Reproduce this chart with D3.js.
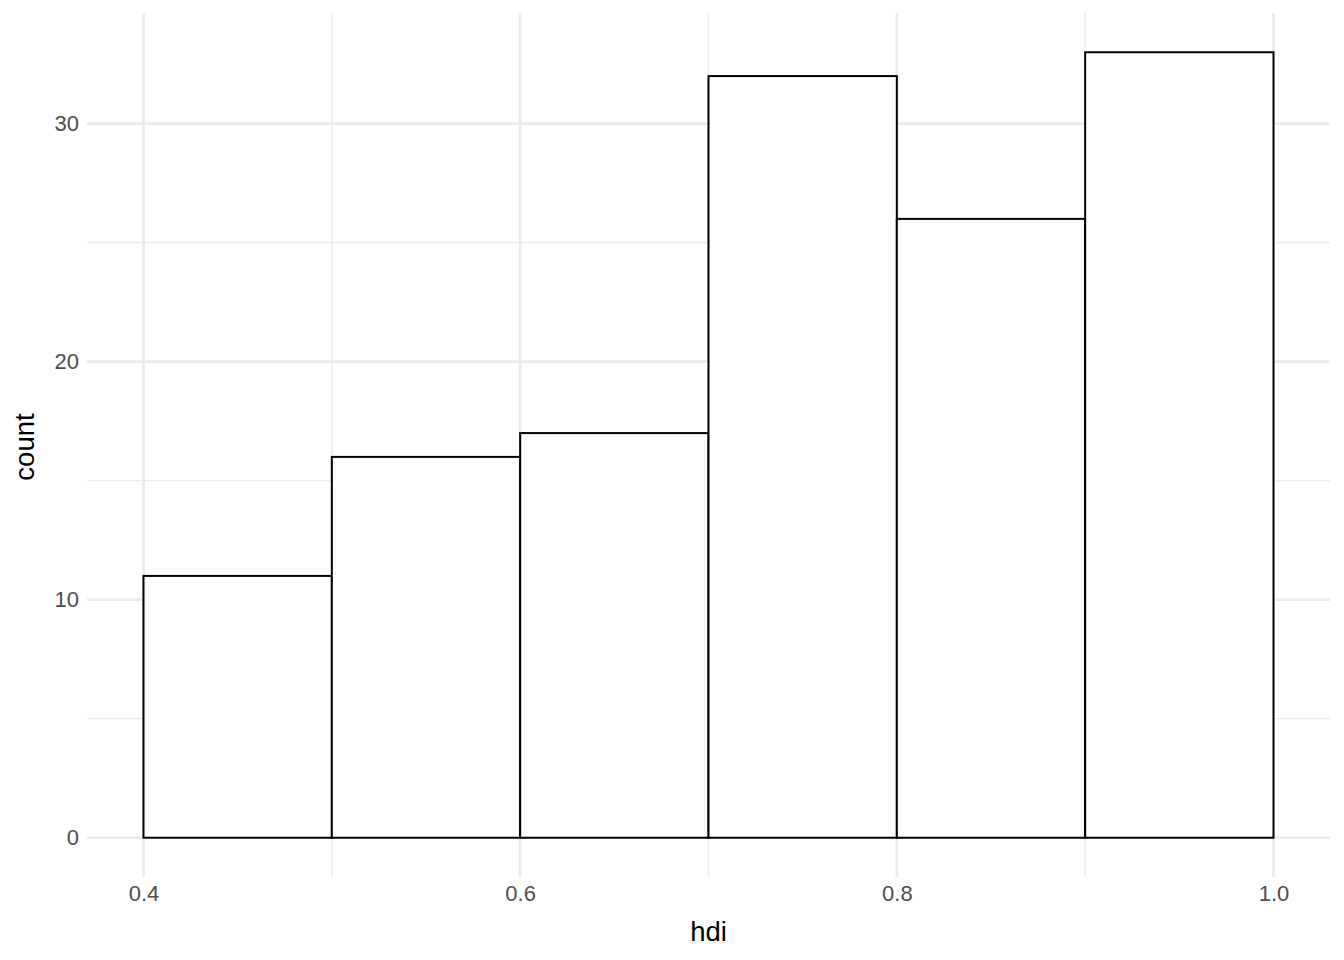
<!DOCTYPE html>
<html>
<head>
<meta charset="utf-8">
<script src="https://cdn.jsdelivr.net/npm/d3@7"></script>
<style>
  body { margin: 0; background: #fff; }
  text { font-family: "Liberation Sans", Arial, sans-serif; }
</style>
</head>
<body>
<div id="chart"></div>
<script>
// histogram bins (hdi, binwidth 0.1)
var binStarts = [0.4, 0.5, 0.6, 0.7, 0.8, 0.9];
var binWidth = 0.1;
var counts = [11, 16, 17, 32, 26, 33];
var xTicks = [0.4, 0.6, 0.8, 1.0];
var xMinor = [0.5, 0.7, 0.9];
var yTicks = [0, 10, 20, 30];
var yMinor = [5, 15, 25];

var W = 1344, H = 960;
var margin = {top: 13, right: 14, bottom: 83, left: 87};
var width = W - margin.left - margin.right,
	height = H - margin.top - margin.bottom;

var svg = d3.select("#chart").append("svg")
		.attr("width", W)
		.attr("height", H)
	.append("g")
		.attr("transform", "translate(" + margin.left + "," + margin.top + ")");

// ggplot-style 5% expansion
var xMin = 0.4, xMax = 1.0, yMax = d3.max(counts);
var xPad = (xMax - xMin) * 0.05, yPad = yMax * 0.05;

var x = d3.scaleLinear()
		.domain([xMin - xPad, xMax + xPad])
		.range([0, width]);

var y = d3.scaleLinear()
		.domain([-yPad, yMax + yPad])
		.range([height, 0]);

// minor grid
svg.selectAll(".xminor").data(xMinor).enter().append("line")
		.attr("x1", function(d){ return x(d); })
		.attr("x2", function(d){ return x(d); })
		.attr("y1", 0).attr("y2", height)
		.attr("stroke", "#ebebeb").attr("stroke-width", 1.3);

svg.selectAll(".yminor").data(yMinor).enter().append("line")
		.attr("y1", function(d){ return y(d); })
		.attr("y2", function(d){ return y(d); })
		.attr("x1", 0).attr("x2", width)
		.attr("stroke", "#ebebeb").attr("stroke-width", 1.3);

// major grid
svg.selectAll(".xmajor").data(xTicks).enter().append("line")
		.attr("x1", function(d){ return x(d); })
		.attr("x2", function(d){ return x(d); })
		.attr("y1", 0).attr("y2", height)
		.attr("stroke", "#ebebeb").attr("stroke-width", 2.7);

svg.selectAll(".ymajor").data(yTicks).enter().append("line")
		.attr("y1", function(d){ return y(d); })
		.attr("y2", function(d){ return y(d); })
		.attr("x1", 0).attr("x2", width)
		.attr("stroke", "#ebebeb").attr("stroke-width", 2.7);

// bars
svg.selectAll(".bar").data(counts).enter().append("rect")
		.attr("class", "bar")
		.attr("x", function(d, i){ return x(binStarts[i]); })
		.attr("width", function(d, i){ return x(binStarts[i] + binWidth) - x(binStarts[i]); })
		.attr("y", function(d){ return y(d); })
		.attr("height", function(d){ return y(0) - y(d); })
		.attr("fill", "#fff")
		.attr("stroke", "#000")
		.attr("stroke-width", 2);

// axes (labels only, as theme_minimal)
var xAxis = d3.axisBottom(x).tickValues(xTicks).tickSize(0).tickPadding(0)
		.tickFormat(d3.format(".1f"));
var gx = svg.append("g")
		.attr("transform", "translate(0," + height + ")")
		.call(xAxis);
gx.select(".domain").remove();
gx.selectAll("text")
		.attr("y", 24)
		.attr("dy", 0)
		.attr("fill", "#4d4d4d")
		.style("font-size", "22px");

var yAxis = d3.axisLeft(y).tickValues(yTicks).tickSize(0).tickPadding(8);
var gy = svg.append("g").call(yAxis);
gy.select(".domain").remove();
gy.selectAll("text")
		.attr("fill", "#4d4d4d")
		.style("font-size", "22px");

// axis titles
svg.append("text")
		.attr("x", width / 2)
		.attr("y", height + 64)
		.attr("text-anchor", "middle")
		.style("font-size", "27.5px")
		.attr("fill", "#000")
		.text("hdi");

svg.append("text")
		.attr("transform", "translate(" + (-53) + "," + (height / 2 + 2) + ") rotate(-90)")
		.attr("text-anchor", "middle")
		.style("font-size", "27.5px")
		.attr("fill", "#000")
		.text("count");
</script>
</body>
</html>
